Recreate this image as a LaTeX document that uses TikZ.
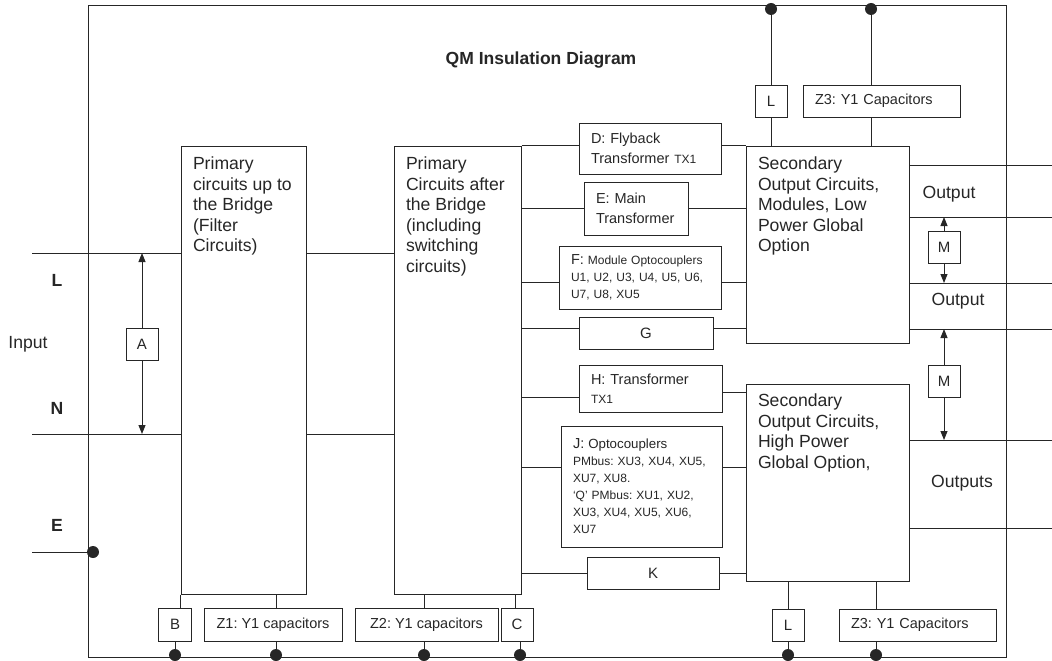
\documentclass[tikz,border=0pt]{standalone}
\usepackage{fontspec}
\setmainfont{Liberation Sans}
\usetikzlibrary{arrows.meta}
\definecolor{ink}{rgb}{0.15,0.15,0.15}
\newcommand{\partsmall}{\fontsize{12}{17}\selectfont}
\newcommand{\partmid}{\fontsize{14.5}{17}\selectfont}
\frenchspacing

\begin{document}
\begin{tikzpicture}[x=1pt, y=-1pt, line width=1pt, color=ink,
  font=\fontsize{17.6}{20.5}\selectfont,
  >={Stealth[length=9pt,width=7pt,inset=0pt]},
  blk/.style={draw, inner sep=0pt},
  blktxt/.style={anchor=north west, inner sep=0pt, align=left},
  partbox/.style={draw, inner xsep=12pt, inner ysep=0pt, align=left, font=\fontsize{14.5}{19.5}\selectfont},
  lbox/.style={draw, inner sep=0pt, minimum height=32pt, minimum width=32pt, font=\fontsize{15}{17}\selectfont},
  joint/.style={circle, fill=ink, inner sep=0pt, minimum size=12pt}]
\useasboundingbox (0,0) rectangle (1052,661);

% outer frame
\draw (88,6) rectangle (1006,657);
\node[font=\fontsize{17.5}{20}\selectfont\bfseries] (title) at (541,60) {QM Insulation Diagram};

% main blocks
\node[blk, minimum width=125pt, minimum height=448pt] (p1) at (243.5,370) {};
\node[blk, minimum width=127pt, minimum height=448pt] (p2) at (457.5,370) {};
\node[blk, minimum width=163pt, minimum height=197pt] (s1) at (827.5,244.5) {};
\node[blk, minimum width=163pt, minimum height=197pt] (s2) at (827.5,482.5) {};
\node[blktxt] (p1txt) at ([xshift=12pt,yshift=-11pt]p1.north west) {Primary\\circuits up to\\the Bridge\\(Filter\\Circuits)};
\node[blktxt] (p2txt) at ([xshift=12pt,yshift=-11pt]p2.north west) {Primary\\Circuits after\\the Bridge\\(including\\switching\\circuits)};
\node[blktxt] (s1txt) at ([xshift=12pt,yshift=-11pt]s1.north west) {Secondary\\Output Circuits,\\Modules, Low\\Power Global\\Option};
\node[blktxt] (s2txt) at ([xshift=12pt,yshift=-10pt]s2.north west) {Secondary\\Output Circuits,\\High Power\\Global Option,};

% input side
\node[font=\fontsize{17.6}{20}\selectfont\bfseries] (lname) at (57,280) {L};
\node[font=\fontsize{17.6}{20}\selectfont\bfseries] (nname) at (57,408) {N};
\node[font=\fontsize{17.6}{20}\selectfont\bfseries] (ename) at (57,525) {E};
\node (input) at (28,344) {Input};
\coordinate (inl) at (32,253);
\coordinate (inn) at (32,434);
\coordinate (ine) at (32,552);
\node[joint] (je) at (93,552) {};
\node[lbox] (a) at (142,344) {A};
\draw (inl) -- (inl -| p1.west);
\draw (inl -| p1.east) -- (inl -| p2.west);
\draw (inn) -- (inn -| p1.west);
\draw (inn -| p1.east) -- (inn -| p2.west);
\draw (ine) -- (je);
\draw [->] (a) -- (a |- inl);
\draw [->] (a) -- (a |- inn);

% barrier parts between primary and secondary
\node[partbox, text width=118pt, minimum height=51pt] (d) at (650,148.5) {D: Flyback\\Transformer {\partsmall TX1}};
\node[partbox, text width=80pt, minimum height=53pt] (e) at (636,208.5) {E: Main\\Transformer};
\node[partbox, text width=138pt, minimum height=63pt, font=\partsmall] (f) at (640,277.5) {{\partmid F:} Module Optocouplers\\U1, U2, U3, U4, U5, U6,\\U7, U8, XU5};
\node[lbox, minimum width=134pt] (g) at (646,333) {G};
\node[partbox, text width=119pt, minimum height=47pt] (h) at (650.5,388.5) {H: Transformer\\{\partsmall TX1}};
\node[partbox, text width=137pt, minimum height=121pt, font=\partsmall] (j) at (641.5,486.5) {{\partmid J:} {\fontsize{13.3}{17}\selectfont Optocouplers}\\PMbus: XU3, XU4, XU5,\\XU7, XU8.\\‘Q’ PMbus: XU1, XU2,\\XU3, XU4, XU5, XU6,\\XU7};
\node[lbox, minimum width=132pt] (k) at (653,573) {K};
\draw (p2.north east) -- (p2.north east -| d.west);
\draw (p2.north east -| d.east) -- (s1.north west);
\draw (e) -- (e -| p2.east);
\draw (e) -- (e -| s1.west);
\draw ([yshift=-4.5pt]f.west) -- ([yshift=-4.5pt]f.west -| p2.east);
\draw ([yshift=-4.5pt]f.east) -- ([yshift=-4.5pt]f.east -| s1.west);
\draw ([yshift=5pt]g.west) -- ([yshift=5pt]g.west -| p2.east);
\draw ([yshift=5pt]g.east) -- ([yshift=5pt]g.east -| s1.west);
\draw ([yshift=-8.5pt]h.west) -- ([yshift=-8.5pt]h.west -| p2.east);
\draw ([yshift=-3.5pt]h.east) -- ([yshift=-3.5pt]h.east -| s2.west);
\draw ([yshift=19.5pt]j.west) -- ([yshift=19.5pt]j.west -| p2.east);
\draw ([yshift=19.5pt]j.east) -- ([yshift=19.5pt]j.east -| s2.west);
\draw (k) -- (k -| p2.east);
\draw (k) -- (k -| s2.west);

% outputs
\coordinate (o1) at (1052,165);
\coordinate (o2) at (1052,217);
\coordinate (o3) at (1052,283);
\coordinate (o4) at (1052,329);
\coordinate (o5) at (1052,440);
\coordinate (o6) at (1052,528);
\foreach \o in {o1,o2,o3,o4}
  \draw (\o -| s1.east) -- (\o);
\foreach \o in {o5,o6}
  \draw (\o -| s2.east) -- (\o);
\node (out1) at (949,194) {Output};
\node (out2) at (958,301) {Output};
\node (outs) at (962,483) {Outputs};
\node[lbox] (m1) at (944,247) {M};
\node[lbox] (m2) at (944,381) {M};
\draw [->] (m1) -- (m1 |- o2);
\draw [->] (m1) -- (m1 |- o3);
\draw [->] (m2) -- (m2 |- o4);
\draw [->] (m2) -- (m2 |- o5);

% top insulation to frame
\node[joint] (jt1) at (771,9) {};
\node[joint] (jt2) at (871,9) {};
\node[lbox] (lt) at (771,101) {L};
\node[partbox, text width=133pt, minimum height=32pt] (z3t) at (881.5,101) {Z3: Y1 Capacitors};
\draw (jt1) -- (lt);
\draw (lt) -- (lt |- s1.north);
\draw (jt2) -- (jt2 |- z3t.north);
\draw (jt2 |- z3t.south) -- (jt2 |- s1.north);

% bottom insulation to frame
\node[joint] (jb1) at (175,655) {};
\node[joint] (jb2) at (276,655) {};
\node[joint] (jb3) at (424,655) {};
\node[joint] (jb4) at (520,655) {};
\node[joint] (jb5) at (788,655) {};
\node[joint] (jb6) at (876,655) {};
\node[lbox, minimum size=33pt] (b) at (175,624.5) {B};
\node[lbox, minimum width=138pt, minimum height=33pt, font=\fontsize{14.5}{17}\selectfont] (z1) at (273,624.5) {Z1: Y1 capacitors};
\node[lbox, minimum width=143pt, minimum height=33pt, font=\fontsize{14.5}{17}\selectfont] (z2) at (426.5,624.5) {Z2: Y1 capacitors};
\node[lbox, minimum height=33pt] (c) at (517,624.5) {C};
\node[lbox] (lb) at (788,625) {L};
\node[partbox, text width=133pt, minimum height=32pt] (z3b) at (917.5,625) {Z3: Y1 Capacitors};
\draw (p1.south west) -- (p1.south west |- b.north);
\draw (b) -- (jb1);
\draw (jb2 |- p1.south) -- (jb2 |- z1.north);
\draw (jb2 |- z1.south) -- (jb2);
\draw (jb3 |- p2.south) -- (jb3 |- z2.north);
\draw (jb3 |- z2.south) -- (jb3);
\draw ([xshift=-2pt]c.north) -- ([xshift=-2pt]c.north |- p2.south);
\draw (jb4 |- c.south) -- (jb4);
\draw (lb) -- (lb |- s2.south);
\draw (lb) -- (jb5);
\draw (jb6 |- s2.south) -- (jb6 |- z3b.north);
\draw (jb6 |- z3b.south) -- (jb6);
\end{tikzpicture}
\end{document}
